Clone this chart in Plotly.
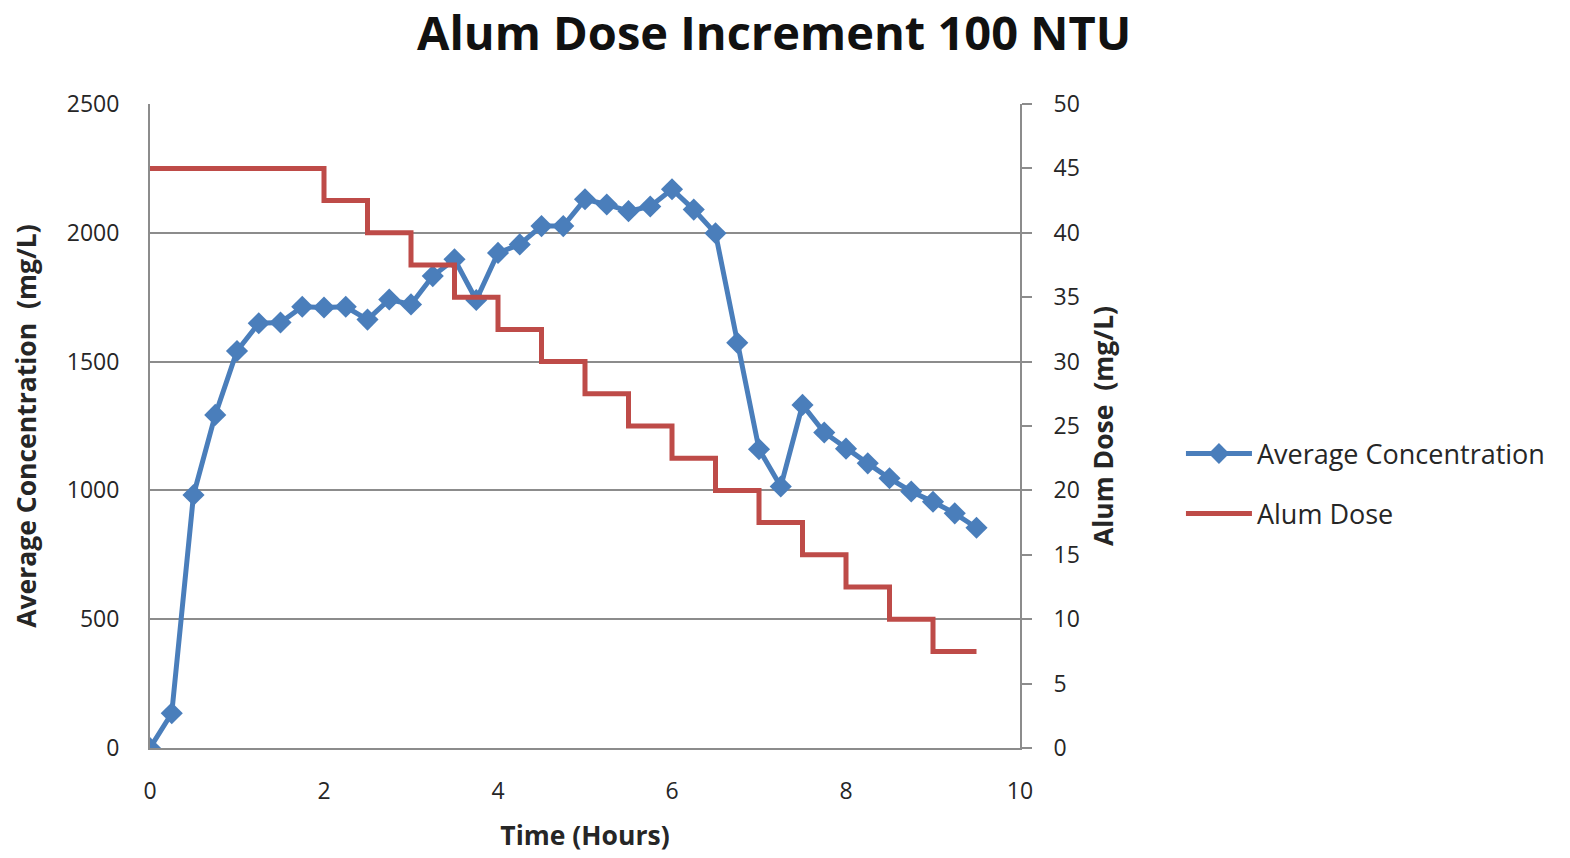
import plotly.graph_objects as go

time_h = [0, 0.25, 0.5, 0.75, 1.0, 1.25, 1.5, 1.75, 2.0, 2.25, 2.5, 2.75, 3.0, 3.25, 3.5, 3.75,
          4.0, 4.25, 4.5, 4.75, 5.0, 5.25, 5.5, 5.75, 6.0, 6.25, 6.5, 6.75, 7.0, 7.25, 7.5, 7.75,
          8.0, 8.25, 8.5, 8.75, 9.0, 9.25, 9.5]
avg_conc = [0, 135, 982, 1293, 1541, 1649, 1652, 1713, 1710, 1713, 1663, 1741, 1722, 1832, 1897, 1739,
            1922, 1955, 2026, 2026, 2130, 2110, 2084, 2102, 2169, 2090, 1998, 1573, 1160, 1015, 1332, 1225,
            1162, 1105, 1047, 996, 956, 911, 855]

dose_time = [0, 2, 2.5, 3, 3.5, 4, 4.5, 5, 5.5, 6, 6.5, 7, 7.5, 8, 8.5, 9, 9.5]
alum_dose = [45, 42.5, 40, 37.5, 35, 32.5, 30, 27.5, 25, 22.5, 20, 17.5, 15, 12.5, 10, 7.5, 7.5]

TITLE = "Alum Dose Increment 100 NTU"

FONT = "Open Sans"
TXT = "#262626"
AX = "#8c8c8c"
fig = go.Figure()
fig.add_trace(go.Scatter(
    x=time_h, y=avg_conc, name="Average Concentration", mode="lines+markers",
    legendgroup="a",
    line=dict(color="#4A7EBB", width=5),
    marker=dict(symbol="diamond", size=17, color="#4A7EBB"),
))
fig.add_trace(go.Scatter(
    x=dose_time, y=alum_dose, name="Alum Dose", mode="lines", yaxis="y2",
    legendgroup="b",
    line=dict(color="#BE4B48", width=5, shape="hv"),
))

fig.add_annotation(
    text="<b>" + TITLE + "</b>", xref="paper", yref="paper",
    x=0.717, y=1.112, xanchor="center", yanchor="middle", showarrow=False,
    font=dict(family=FONT, size=47, color="#111111"),
)

fig.update_layout(
    width=1562, height=850,
    paper_bgcolor="white", plot_bgcolor="white",
    margin=dict(l=142, r=550, t=96, b=110),
    font=dict(family=FONT, color=TXT),
    xaxis=dict(range=[0, 10], dtick=2, tick0=0, showgrid=False, zeroline=False,
               showline=True, linecolor=AX, linewidth=2,
               ticks="", ticklabelstandoff=21,
               tickfont=dict(size=23, family=FONT, color=TXT),
               title=dict(text="<b>Time (Hours)</b>", font=dict(size=26.5, family=FONT, color=TXT), standoff=22)),
    yaxis=dict(range=[0, 2500], dtick=500, tick0=0, showgrid=True, gridcolor=AX, gridwidth=2,
               zeroline=False, showline=True, linecolor=AX, linewidth=2,
               ticks="", ticklabelstandoff=24,
               tickfont=dict(size=23, family=FONT, color=TXT),
               title=dict(text="<b>Average Concentration  (mg/L)</b>", font=dict(size=26.5, family=FONT, color=TXT), standoff=28)),
    yaxis2=dict(range=[0, 50], dtick=5, tick0=0, overlaying="y", side="right", showgrid=False,
                zeroline=False, showline=True, linecolor=AX, linewidth=2,
                ticks="outside", ticklen=10, tickwidth=2, tickcolor=AX, ticklabelstandoff=17,
                tickfont=dict(size=23, family=FONT, color=TXT),
                title=dict(text="<b>Alum Dose  (mg/L)</b>", font=dict(size=26.5, family=FONT, color=TXT), standoff=16)),
    legend=dict(x=1.185, y=0.41, xanchor="left", yanchor="middle",
                font=dict(size=27, family=FONT, color=TXT),
                itemwidth=66, tracegroupgap=22, bgcolor="rgba(0,0,0,0)"),
    showlegend=True,
)

fig.write_html("out.html")
